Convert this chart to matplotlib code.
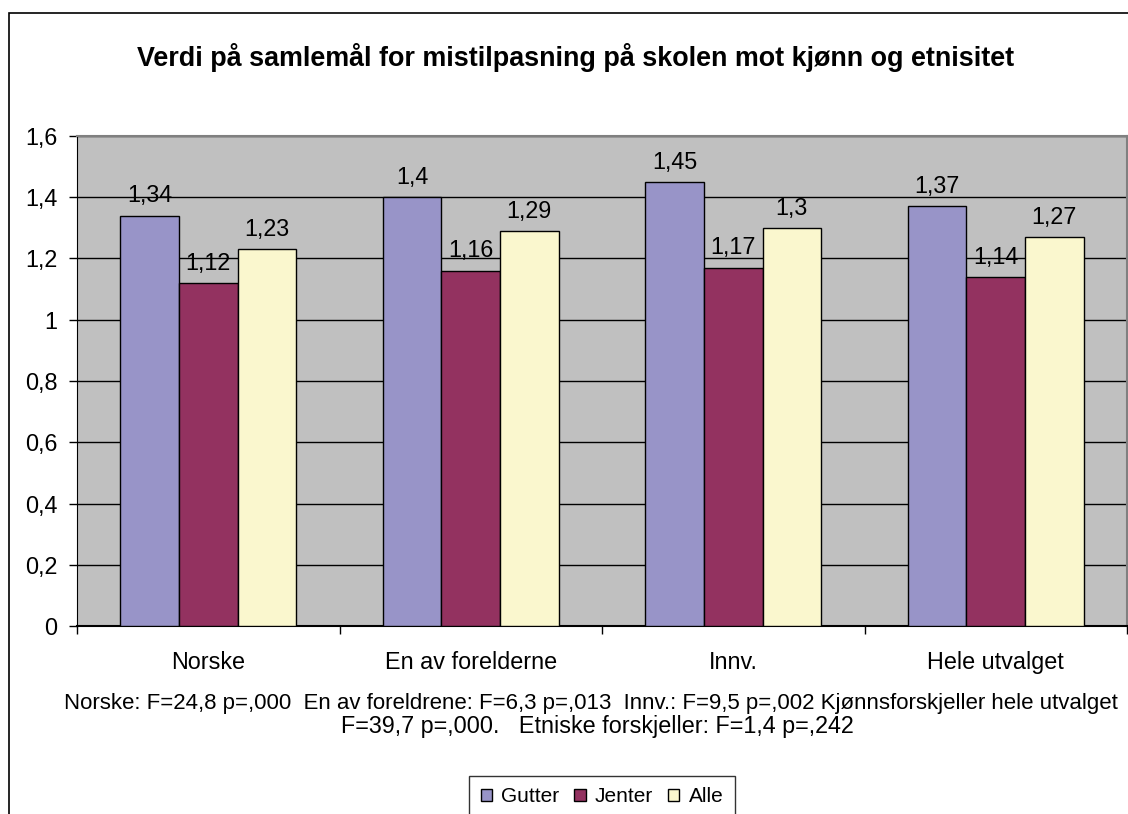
import numpy as np
import matplotlib
matplotlib.use('Agg')
import matplotlib.pyplot as plt
from matplotlib.patches import Rectangle, Patch
from matplotlib.ticker import FuncFormatter, FixedLocator

plt.rcParams['font.family'] = ['Liberation Sans', 'DejaVu Sans']

# data
categories = ['Norske', 'En av forelderne', 'Innv.', 'Hele utvalget']
series = ['Gutter', 'Jenter', 'Alle']
gutter = [1.34, 1.40, 1.45, 1.37]
jenter = [1.12, 1.16, 1.17, 1.14]
alle = [1.23, 1.29, 1.30, 1.27]
colors = ['#9894C8', '#933260', '#FAF7CE']

title = 'Verdi på samlemål for mistilpasning på skolen mot kjønn og etnisitet'
note1 = ('Norske: F=24,8 p=,000  En av foreldrene: F=6,3 p=,013  Innv.: F=9,5 p=,002 '
         'Kjønnsforskjeller hele utvalget')
note2 = 'F=39,7 p=,000.   Etniske forskjeller: F=1,4 p=,242'

W, H = 1128, 814
FS = 16.8
fig = plt.figure(figsize=(W / 100, H / 100), dpi=100)

def comma(v):
    return ('%g' % round(v, 2)).replace('.', ',')

# outer chart border (extends beyond right/bottom edge)
fig.add_artist(Rectangle((9 / W, -0.2), 1.5, 1 - 13 / H + 0.2,
                         transform=fig.transFigure, fill=False,
                         edgecolor='black', linewidth=1.2))

ax = fig.add_axes([77 / W, (H - 626) / H, (1127 - 77) / W, (626 - 136) / H])
ax.set_facecolor('#C0C0C0')

x = np.arange(len(categories))
w = 0.223
for i, (vals, name) in enumerate(zip([gutter, jenter, alle], series)):
    bars = ax.bar(x + (i - 1) * w, vals, w, color=colors[i], edgecolor='black',
                  linewidth=1, label=name, zorder=3)
    for b, v in zip(bars, vals):
        ax.annotate(comma(v), (b.get_x() + b.get_width() / 2, v),
                    xytext=(0, 6), textcoords='offset points',
                    ha='center', va='bottom', fontsize=FS, zorder=4)

ax.set_ylim(0, 1.6)
ax.set_xlim(-0.5, len(categories) - 0.5)
ax.set_yticks(np.arange(0, 1.61, 0.2))
ax.yaxis.set_major_formatter(FuncFormatter(lambda v, p: comma(v)))
ax.yaxis.grid(True, color='black', linewidth=1, zorder=1)
ax.set_axisbelow(True)
ax.tick_params(axis='y', length=6, width=1, labelsize=FS, pad=8)

ax.xaxis.set_major_locator(FixedLocator(np.arange(-0.5, len(categories), 1.0)))
ax.xaxis.set_major_formatter(FuncFormatter(lambda v, p: ''))
ax.xaxis.set_minor_locator(FixedLocator(x))
ax.set_xticklabels(categories, minor=True)
ax.tick_params(axis='x', which='major', length=6, width=1)
ax.tick_params(axis='x', which='minor', length=0, labelsize=FS, pad=18)

for s in ['top', 'right']:
    ax.spines[s].set_color('#808080')
    ax.spines[s].set_linewidth(1.5)
ax.spines['left'].set_color('black')
ax.spines['bottom'].set_color('black')
ax.spines['bottom'].set_linewidth(1.5)

fig.text(576 / W, 1 - 57 / H, title, ha='center', va='center',
         fontsize=19.4, fontweight='bold')
fig.text(64 / W, 1 - 704 / H, note1, ha='left', va='center', fontsize=16.0)
fig.text(597 / W, 1 - 727 / H, note2, ha='center', va='center', fontsize=FS)

handles = [Patch(facecolor=c, edgecolor='black', linewidth=1) for c in colors]
leg = fig.legend(handles, series, loc='upper center',
                 bbox_to_anchor=(602 / W, 1 - 776 / H), ncol=3, fontsize=15,
                 frameon=True, fancybox=False, edgecolor='black',
                 handlelength=0.55, handleheight=0.55, handletextpad=0.45,
                 columnspacing=0.7, borderpad=0.55, borderaxespad=0)
leg.get_frame().set_linewidth(1)

fig.savefig('out.png', dpi=100)
